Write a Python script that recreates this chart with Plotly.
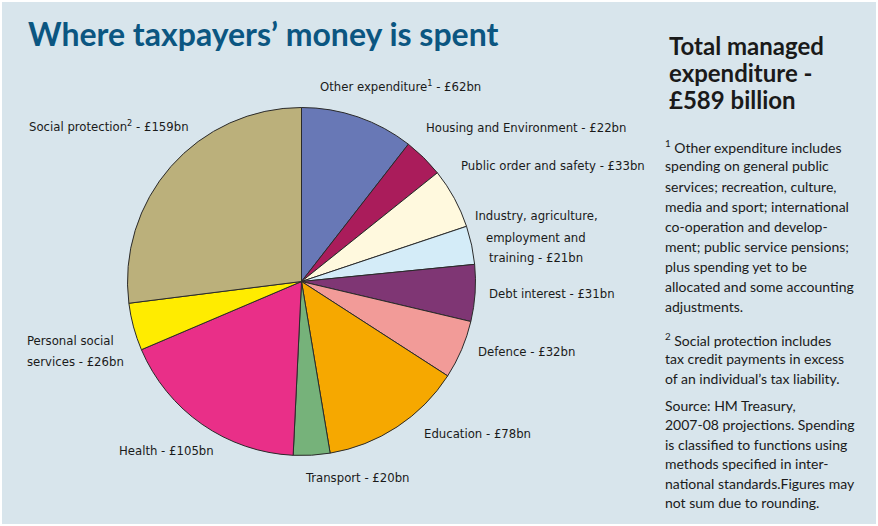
import plotly.graph_objects as go

categories = ["Other expenditure", "Housing and Environment", "Public order and safety",
              "Industry, agriculture, employment and training", "Debt interest", "Defence",
              "Education", "Transport", "Health", "Personal social services", "Social protection"]
values = [62, 22, 33, 21, 31, 32, 78, 20, 105, 26, 159]
colors = ["#6878b6", "#aa1c5b", "#fff9de", "#d4ecf8", "#7f3674", "#f29b98",
          "#f6a800", "#76b27a", "#e92f88", "#ffec00", "#bbb07b"]

W, H = 878, 526
cx, cy, r = 301.5, 281.5, 174

fig = go.Figure()
fig.add_trace(go.Pie(
    labels=categories, values=values, sort=False, direction="clockwise", rotation=0,
    marker=dict(colors=colors, line=dict(color="#2a2a2a", width=1)),
    textinfo="none", hoverinfo="none", showlegend=False,
    domain=dict(x=[(cx - r) / W, (cx + r) / W], y=[1 - (cy + r) / H, 1 - (cy - r) / H]),
))

LF = "DejaVu Sans Condensed, Liberation Sans Narrow, sans-serif"
BF = "Lato, Open Sans, sans-serif"

def ann(text, x, y, size=13, family=LF, color="#1a1a1a", anchor="left", bold=False):
    if bold:
        text = "<b>" + text + "</b>"
    fig.add_annotation(text=text, x=x / W, y=1 - y / H, xref="paper", yref="paper",
                       xanchor=anchor, yanchor="middle", showarrow=False,
                       font=dict(family=family, size=size, color=color))

# slice labels
ann("Other expenditure<sup>1</sup> - £62bn", 318, 86)
ann("Housing and Environment - £22bn", 424, 128)
ann("Public order and safety - £33bn", 459, 166)
ann("Industry, agriculture,", 536, 216, anchor="center")
ann("employment and", 536, 237, anchor="center")
ann("training - £21bn", 536, 257, anchor="center")
ann("Debt interest - £31bn", 487, 293)
ann("Defence - £32bn", 476, 351)
ann("Education - £78bn", 422, 433)
ann("Transport - £20bn", 303, 477)
ann("Health - £105bn", 117, 450)
ann("Personal social", 25, 340)
ann("services - £26bn", 25, 361)
ann("Social protection<sup>2</sup> - £159bn", 27, 126)

# title
ann("Where taxpayers’ money is spent", 26, 33, size=32, family=BF, color="#0b5681", bold=True)

# right panel
for i, t in enumerate(["Total managed", "expenditure -", "£589 billion"]):
    ann(t, 667, 46 + i * 26.5, size=24, family=BF, color="#1a1a1a", bold=True)

notes1 = ["<sup>1</sup> Other expenditure includes", "spending on general public",
          "services; recreation, culture,", "media and sport; international",
          "co-operation and develop-", "ment; public service pensions;",
          "plus spending yet to be", "allocated and some accounting", "adjustments."]
for i, t in enumerate(notes1):
    ann(t, 663, 146 + i * 20, size=14, family=BF, color="#1a1a1a")

notes2 = ["<sup>2</sup> Social protection includes", "tax credit payments in excess",
          "of an individual’s tax liability."]
for i, t in enumerate(notes2):
    ann(t, 663, 339 + i * 19.5, size=14, family=BF, color="#1a1a1a")

notes3 = ["Source: HM Treasury,", "2007-08 projections. Spending",
          "is classified to functions using", "methods specified in inter-",
          "national standards.Figures may", "not sum due to rounding."]
for i, t in enumerate(notes3):
    ann(t, 663, 405 + i * 19.5, size=14, family=BF, color="#1a1a1a")

fig.add_shape(type="rect", xref="paper", yref="paper", x0=2 / W, x1=(W - 2) / W,
              y0=2 / H, y1=1 - 2 / H, fillcolor="#d8e5ec", line=dict(width=0), layer="below")

fig.update_layout(width=W, height=H, margin=dict(l=0, r=0, t=0, b=0),
                  paper_bgcolor="#ffffff", plot_bgcolor="#ffffff")
fig.write_html("out.html", config={"displayModeBar": False},
               post_script="document.body.style.margin='0';")
